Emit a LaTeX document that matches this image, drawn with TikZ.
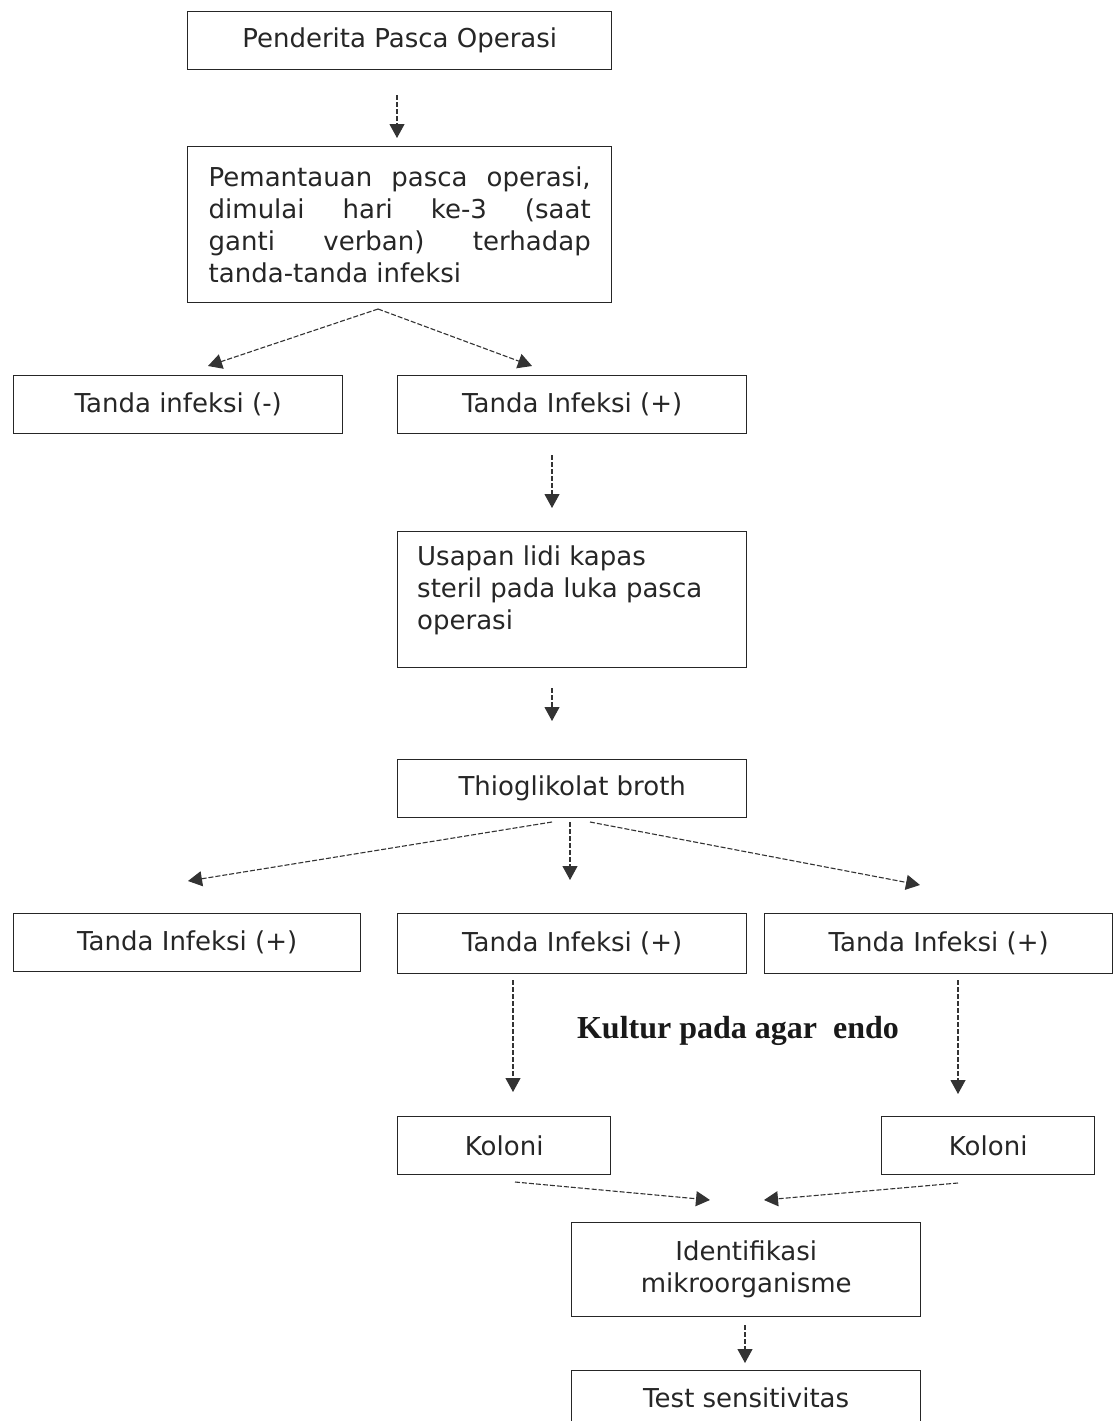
\documentclass[tikz,border=0pt]{standalone}
\usepackage{fontspec}
\setmainfont{DejaVu Sans}
\newfontfamily\labelfont{Liberation Serif}
\usetikzlibrary{arrows.meta}
\begin{document}
\begin{tikzpicture}[x=1pt,y=-1pt,
  box/.style={draw=black!85, line width=1.4pt, anchor=north west, inner sep=0pt,
    font=\fontsize{26}{32}\selectfont, text=black!85},
  conn/.style={draw=black!80, line width=1.1pt, dash pattern=on 5pt off 2pt,
    -{Triangle[length=14pt,width=15pt]}},
]
\useasboundingbox[fill=white] (0,0) rectangle (1117,1421);
\node[box, minimum width=424, minimum height=58] (p1) at (187,11) {Penderita Pasca Operasi};
\node[box, minimum width=424, minimum height=156] (p2) at (187,146) {\parbox{382pt}{%
  \makebox[382pt][s]{Pemantauan pasca operasi,}\\
  \makebox[382pt][s]{dimulai hari ke-3 (saat}\\
  \makebox[382pt][s]{ganti verban) terhadap}\\
  tanda-tanda infeksi}};
\node[box, minimum width=329, minimum height=58] (neg) at (13,375) {Tanda infeksi (-)};
\node[box, minimum width=349, minimum height=58] (pos) at (397,375) {Tanda Infeksi (+)};
\node[box, minimum width=349, minimum height=136] (swab) at (397,531) {\parbox[c][108pt][t]{310pt}{\raggedright
  Usapan lidi kapas\\steril pada luka pasca\\operasi}};
\node[box, minimum width=349, minimum height=58] (thio) at (397,759) {Thioglikolat broth};
\node[box, minimum width=347, minimum height=58] (t1) at (13,913) {Tanda Infeksi (+)};
\node[box, minimum width=349, minimum height=60] (t2) at (397,913) {Tanda Infeksi (+)};
\node[box, minimum width=348, minimum height=60] (t3) at (764,913) {Tanda Infeksi (+)};
\node[font=\labelfont\bfseries\fontsize{32}{36}\selectfont, text=black!90] (lbl) at (738,1031) {Kultur pada agar\ \ endo};
\node[box, minimum width=213, minimum height=58] (k1) at (397,1116) {Koloni};
\node[box, minimum width=213, minimum height=58] (k2) at (881,1116) {Koloni};
\node[box, minimum width=349, minimum height=94] (id) at (571,1222) {\parbox{340pt}{\centering Identifikasi\\mikroorganisme}};
\node[box, minimum width=349, minimum height=54] (ts) at (571,1370) {Test sensitivitas};

\coordinate (a1) at (397,95);
\coordinate (a1e) at (397,138);
\draw[conn] (a1) -- (a1e);
\coordinate (s1) at (378,309);
\draw[conn] (s1) -- (208,366);
\draw[conn] (s1) -- (532,366);
\draw[conn] (552,455) -- (552,508);
\draw[conn] (552,688) -- (552,721);
\draw[conn] (552,822) -- (188,881);
\draw[conn] (570,822) -- (570,880);
\draw[conn] (590,822) -- (920,885);
\draw[conn] (513,980) -- (513,1092);
\draw[conn] (958,980) -- (958,1094);
\draw[conn] (515,1182) -- (710,1200);
\draw[conn] (958,1183) -- (764,1200);
\draw[conn] (745,1325) -- (745,1363);
\end{tikzpicture}
\end{document}
